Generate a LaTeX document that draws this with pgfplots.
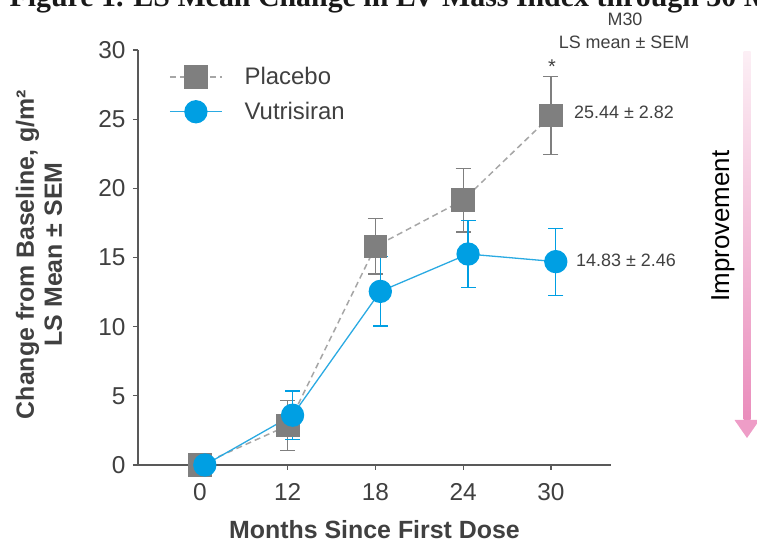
\documentclass[border=0pt]{standalone}
\usepackage{pgfplots}
\pgfplotsset{compat=1.18}
\usepackage{pgfplotstable}
\usepackage{fontspec}
\setmainfont{Liberation Sans}
\newfontfamily\titlefont{Liberation Serif}
\definecolor{axisgray}{HTML}{595959}
\definecolor{tickgray}{HTML}{404040}
\definecolor{pgray}{HTML}{7F7F7F}
\definecolor{plgray}{HTML}{A6A6A6}
\definecolor{vblue}{HTML}{009FE3}
\definecolor{vline}{HTML}{2AAAE2}
\definecolor{pinktop}{HTML}{FCEFF5}
\definecolor{pinkbot}{HTML}{EA8DBC}
\definecolor{pinkhead}{HTML}{EE9DC7}

\pgfplotstableread{
x y e
0.00 0.00 0
1.00 2.85 1.80
2.00 15.80 2.00
3.00 19.15 2.30
4.00 25.25 2.82
}\placebo
\pgfplotstableread{
x y e
0.055 0.00 0
1.055 3.60 1.75
2.055 12.55 2.50
3.055 15.25 2.40
4.055 14.70 2.42
}\vutri

\begin{document}
\begin{tikzpicture}[x=1bp,y=1bp]
\useasboundingbox (-138,-77) rectangle (619,465);
\node[anchor=base west, font=\titlefont\bfseries\fontsize{30}{31}\selectfont, text=black!90] at (-132,458) {Figure 1. LS Mean Change in LV Mass Index through 30 Months};
\begin{axis}[
  at={(0,0)}, anchor=south west,
  scale only axis, width=473bp, height=415bp,
  xmin=-0.7066, xmax=4.684, ymin=0, ymax=30,
  axis x line*=bottom, axis y line*=left,
  xtick={0,1,2,3,4}, xticklabels={0,12,18,24,30},
  ytick={0,5,10,15,20,25,30},
  tick align=outside, major tick length=5bp,
  tick style={color=axisgray, line width=1.2bp},
  axis line style={color=axisgray, line width=1.2bp},
  /pgf/number format/assume math mode=true,
  ticklabel style={font=\fontsize{24.5}{28}\selectfont, text=tickgray},
  yticklabel style={xshift=-4bp},
  xticklabel style={yshift=-10bp},
  clip=false,
  xlabel={Months Since First Dose},
  xlabel style={at={(axis description cs:0.5,0)}, anchor=base, yshift=-73bp, font=\bfseries\fontsize{25}{28}\selectfont, text=tickgray},
  ylabel={Change from Baseline, g/m²\\LS Mean ± SEM},
  ylabel style={at={(axis description cs:0,0.5)}, anchor=center, yshift=99bp, xshift=3bp, align=center, font=\bfseries\fontsize{25}{28}\selectfont, text=tickgray},
  legend style={at={(axis description cs:0.0655,0.963)}, anchor=north west, draw=none, fill=none, font=\fontsize{24}{28}\selectfont, text=tickgray, row sep=12bp, column sep=20bp, inner sep=0pt},
  legend cell align=left,
  legend image code/.code={\draw[mark repeat=2,mark phase=2,#1] plot coordinates {(0bp,0bp)(26bp,0bp)(52bp,0bp)};},
]
\addplot[plgray, line width=1.5bp, dash pattern=on 6bp off 4bp,
  mark=square*, mark size=11bp, mark options={solid, fill=pgray, draw=pgray},
  error bars/.cd, y dir=both, y explicit,
  error bar style={solid, pgray, line width=1.2bp},
  error mark options={solid, pgray, line width=1.2bp, mark size=7.5bp, rotate=90}]
  table[x=x, y=y, y error=e] {\placebo};
\addlegendentry{Placebo}
\addplot[vline, line width=1.3bp,
  mark=*, mark size=11bp, mark options={fill=vblue, draw=vblue},
  error bars/.cd, y dir=both, y explicit,
  error bar style={vblue, line width=1.2bp},
  error mark options={vblue, line width=1.2bp, mark size=7.5bp, rotate=90}]
  table[x=x, y=y, y error=e] {\vutri};
\addlegendentry{Vutrisiran}
\end{axis}
% annotations (pixel -> bp: x-138, 465-y)
\node[anchor=west, font=\fontsize{18}{20}\selectfont, text=tickgray, inner sep=0pt] at (436,353) {25.44 ± 2.82};
\node[anchor=west, font=\fontsize{18}{20}\selectfont, text=tickgray, inner sep=0pt] at (438,205) {14.83 ± 2.46};
\node[anchor=base, font=\fontsize{20}{22}\selectfont, text=tickgray, inner sep=0pt] at (414,391) {*};
\node[anchor=base, font=\fontsize{18}{20}\selectfont, text=tickgray, inner sep=0pt] at (487,439.5) {M30};
\node[anchor=base, font=\fontsize{18}{20}\selectfont, text=tickgray, inner sep=0pt] at (486,416.5) {LS mean ± SEM};
\node[rotate=90, anchor=center, font=\fontsize{26}{28}\selectfont, text=black, inner sep=0pt] at (585,239) {Improvement};
\shade[top color=pinktop, bottom color=pinkbot] (605.5,413) rectangle (612.5,45);
\fill[pinkhead] (596.5,45) -- (621.5,45) -- (609,27) -- cycle;
\end{tikzpicture}
\end{document}
